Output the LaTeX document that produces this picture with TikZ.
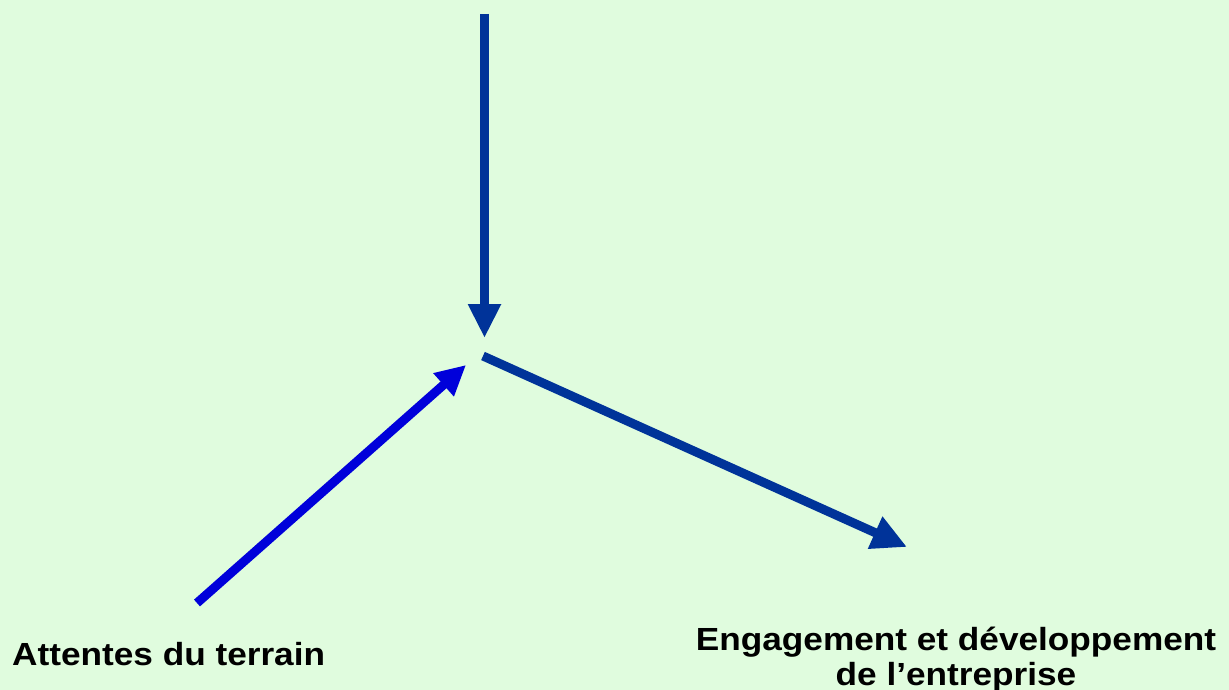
\documentclass[tikz,border=0pt]{standalone}
\usepackage{fontspec}
\setmainfont{Liberation Sans}[FakeStretch=1.1]
\usetikzlibrary{arrows.meta}
\definecolor{bggreen}{RGB}{224,252,222}
\definecolor{navy}{RGB}{0,51,153}
\definecolor{brightblue}{RGB}{0,0,218}
\tikzset{
  flowarrow/.style={line width=9pt, line cap=butt, -{Triangle[length=34pt,width=31pt]}},
  lbl/.style={font=\fontsize{32}{35}\selectfont\bfseries, inner sep=0pt, text=black},
}
\begin{document}
\begin{tikzpicture}[x=1pt,y=-1pt]
  \fill[bggreen] (0,0) rectangle (1229,690);
  \useasboundingbox (0,0) rectangle (1229,690);
  \coordinate (top) at (484.5,14);
  \coordinate (tipdown) at (484.5,338);
  \coordinate (startright) at (483,356);
  \coordinate (tipright) at (907,547);
  \coordinate (startleft) at (197,603);
  \coordinate (tipleft) at (466,365);
  \draw[flowarrow, navy] (top) -- (tipdown);
  \draw[flowarrow, navy, -{Triangle[length=35pt,width=33pt]}] (startright) -- (tipright);
  \draw[flowarrow, brightblue, -{Triangle[length=30pt,width=29pt]}] (startleft) -- (tipleft);
  \node[lbl, anchor=base west] (attentes) at (12,665) {Attentes du terrain};
  \node[lbl, anchor=base, align=center] (engagement) at (956,685) {Engagement et développement\\de l’entreprise};
\end{tikzpicture}
\end{document}
